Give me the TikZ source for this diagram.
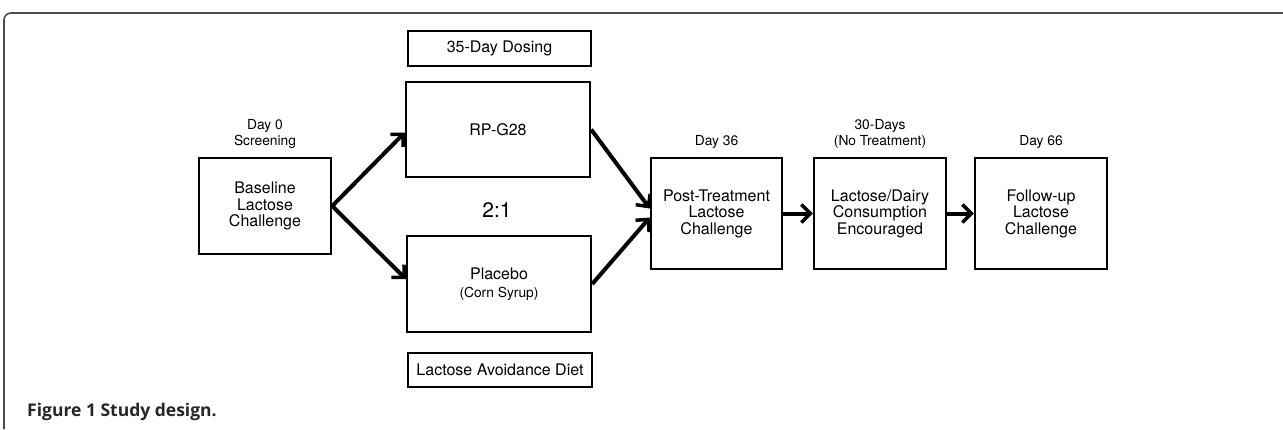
\documentclass[tikz,border=0pt]{standalone}
\usepackage{fontspec}
\setmainfont{TeX Gyre Heros}
\newfontfamily\capfont{Open Sans}
\usetikzlibrary{arrows.meta}

\tikzset{
    box/.style={draw, line width=2.4pt, align=center, inner sep=0pt,
        font=\fontsize{16}{16.5}\selectfont},
    tag/.style={align=center, font=\fontsize{13.8}{16}\selectfont},
    arr/.style={line width=4pt, -{Straight Barb[length=9pt, width=18pt, line width=3.5pt]}}
}

\begin{document}
\begin{tikzpicture}[x=1pt, y=-1pt]
    \useasboundingbox (0,0) rectangle (1283,429);

    % frame and caption
    \draw[black!70, line width=1.6pt, rounded corners=7pt] (4,429) -- (4,13) -- (1283,13);
    \node[anchor=base west, inner sep=0pt, font=\capfont\bfseries\fontsize{17.5}{20}\selectfont, text=black!85] (caption) at (27,416) {Figure 1 Study design.};

    % boxes
    \node[box, minimum width=132pt, minimum height=96pt] (base) at (265,206) {Baseline\\Lactose\\Challenge};
    \node[box, line width=2pt, minimum width=183pt, minimum height=35pt] (dose) at (499.5,48.5) {35-Day Dosing};
    \node[box, minimum width=184pt, minimum height=95pt] (drug) at (498,129.5) {RP-G28};
    \node[box, minimum width=184pt, minimum height=96pt] (plac) at (499,284) {Placebo\\[2pt]{\fontsize{13.8}{14}\selectfont (Corn Syrup)}};
    \node[box, line width=2pt, minimum width=184pt, minimum height=34pt] (diet) at (500,370) {Lactose Avoidance Diet};
    \node[box, minimum width=131pt, minimum height=111pt] (post) at (716.5,213.5) {Post-Treatment\\Lactose\\Challenge};
    \node[box, minimum width=132pt, minimum height=111pt] (dairy) at (880,213.5) {Lactose/Dairy\\Consumption\\Encouraged};
    \node[box, minimum width=132pt, minimum height=111pt] (follow) at (1041,213.5) {Follow-up\\Lactose\\Challenge};

    % labels
    \node[font=\fontsize{21}{22}\selectfont] (ratio) at (497,210) {2:1};
    \node[tag, anchor=south] (day0) at (base.north) [yshift=5pt] {Day 0\\Screening};
    \node[tag, anchor=south] (day36) at (post.north) [yshift=5pt] {Day 36};
    \node[tag, anchor=south] (notreat) at (dairy.north) [yshift=5pt] {30-Days\\(No Treatment)};
    \node[tag, anchor=south] (day66) at (follow.north) [yshift=5pt] {Day 66};

    % arrows
    \draw[arr] (base.east) -- ([yshift=-3pt]drug.west);
    \draw[arr] (base.east) -- ([yshift=5pt]plac.west);
    \draw[arr] (drug.east) -- ([yshift=5pt]post.west);
    \draw[arr] (plac.east) -- ([yshift=-4pt]post.west);
    \draw[arr] (post) -- (dairy);
    \draw[arr] (dairy) -- (follow);
\end{tikzpicture}
\end{document}
